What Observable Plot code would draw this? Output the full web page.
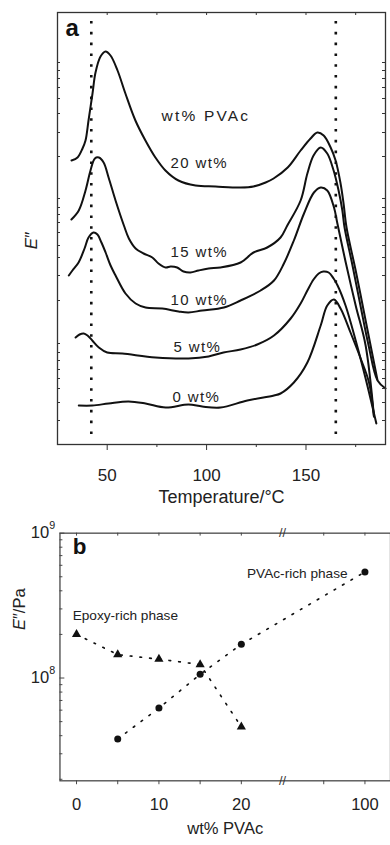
<!DOCTYPE html>
<html><head><meta charset="utf-8">
<script src="https://cdn.jsdelivr.net/npm/d3@7"></script>
<script src="https://cdn.jsdelivr.net/npm/@observablehq/plot@0.6"></script>
<style>
html,body{margin:0;padding:0;background:#fff;}
#wrap{position:relative;width:390px;height:845px;overflow:hidden;background:#fff;}
#pa{position:absolute;left:0;top:0;}
#pb{position:absolute;left:0;top:520px;}
</style></head><body><div id="wrap"><div id="pa"></div><div id="pb"></div></div>
<script>
// ---------- Panel a: E'' vs temperature (stacked, arbitrary units) ----------
const tempTicks = [50, 100, 150];
const tempMinorTicks = [75, 125, 175];
const transitionTemps = [42, 165];
const seriesNames = ["20 wt%", "15 wt%", "10 wt%", "5 wt%", "0 wt%"];

const curve20 = [[32.05,284],[35.07,287],[37.58,296],[39.09,304],[40.6,324],[42.61,351],[44.12,372],[46.64,388],[49.16,393],[51.67,389],[55.2,374],[59.16,351],[64.19,324],[69.23,304],[74.25,287],[79.29,274],[85.83,264],[94.45,259],[104.5,258],[117.1,257],[123.6,258],[129.7,262],[133.7,266],[140.8,277],[147.3,294],[152.3,306],[155.7,312],[158.9,309],[162.4,297],[164.9,284],[167.4,261],[168.9,241],[170.4,217],[175.0,174],[180.0,124],[183.5,89],[185.9,65]];
const curve15 = [[32.0,225],[35.7,234],[39.1,254],[41.6,274],[43.8,286],[45.8,287],[48.2,282],[50.7,267],[54.2,244],[58.4,219],[60.9,206],[64.3,196],[68.3,191],[72.7,187],[75.8,181],[79.4,177],[81.9,178],[85.2,177],[88.4,173],[91.9,172],[95.9,174],[101.0,176],[107.0,177],[117.1,182],[123.6,192],[130.5,197],[137.2,207],[140.6,219],[147.3,244],[150.7,271],[153.8,289],[157.4,297],[160.7,291],[163.9,274],[166.4,254],[168.3,234],[169.4,217],[173.4,179],[177.4,139],[181.5,99],[186.0,64],[190.0,56]];
const curve10 = [[30.7,169],[32.5,174],[35.6,182],[38.6,196],[40.6,207],[43.1,212],[45.1,210],[47.1,202],[49.2,192],[51.7,179],[54.2,169],[59.2,151],[64.3,141],[69.3,137],[77.7,136],[85.9,133],[90.9,132],[97.8,134],[108.7,137],[117.1,144],[127.2,154],[133.9,164],[138.9,181],[143.9,204],[149.0,231],[154.0,252],[157.4,257],[160.7,254],[164.1,237],[165.8,221],[170.0,182],[175.0,139],[180.0,99],[184.2,28]];
const curve5 = [[34.1,107],[36.1,110],[38.2,111],[40.1,109],[42.5,104],[45.8,97],[50.0,92],[57.6,91],[74.3,87],[90.9,86],[101.0,88],[108.5,92],[117.1,95],[125.5,100],[133.9,109],[142.3,126],[147.3,141],[150.7,154],[153.8,165],[156.4,171],[158.7,173],[161.4,172],[163.9,166],[165.9,159],[169.9,139],[175.0,104],[180.0,66],[185.4,21]];
const curve0 = [[35.7,39],[42.5,39],[50.7,41],[60.7,43],[69.3,41],[79.4,37],[90.9,40],[97.8,38],[107.0,37],[120.5,44],[133.9,49],[137.2,51],[143.9,62],[150.7,82],[157.4,119],[160.7,139],[164.1,145],[167.4,136],[172.4,112],[177.5,86],[181.7,62],[184.2,28]];
const eTicksA = [382,374,366,357,346,331,312,288,246,237,230,222,212,199,187,169,144,101,92,84,75,66,56,42,24];

// ---------- Panel b: E'' peak vs wt% PVAc ----------
const wtEpoxy = [0, 5, 10, 15, 20];
const eEpoxy = [2.0e8, 1.45e8, 1.35e8, 1.24e8, 4.6e7];
const wtPVAc = [5, 10, 15, 20, 100];
const ePVAc = [3.8e7, 6.2e7, 1.06e8, 1.71e8, 5.4e8];
const wtTicks = [0, 5, 10, 15, 20, 90, 100];
const wtTickLabels = {0: "0", 10: "10", 20: "20", 100: "100"};
const eMajorTicks = [1e8, 1e9];
const eMinorTicks = [2e7,3e7,4e7,5e7,6e7,7e7,8e7,9e7,2e8,3e8,4e8,5e8,6e8,7e8,8e8,9e8];

// ---------- build ----------
const FONT = "'Liberation Sans', Arial, Helvetica, sans-serif";
const curves = [curve20, curve15, curve10, curve5, curve0];
const rowsA = curves.flatMap((c, i) => c.map(([T, E]) => ({series: seriesNames[i], T, E})));

const FW_A = 328, FH_A = 432;
function lab(text, dx, dy, o = {}) {
  return Plot.text([text], {frameAnchor: "top-left", textAnchor: "start", lineAnchor: "middle", dx, dy, fill: "#222", ...o});
}
const plotA = Plot.plot({
  width: 390, height: 510,
  marginLeft: 57, marginRight: 5, marginTop: 12, marginBottom: 66,
  style: {fontFamily: FONT, fontSize: "17px", color: "#222", background: "white", overflow: "visible"},
  x: {domain: [25, 190]},
  y: {domain: [0, 432], axis: null},
  marks: [
    Plot.ruleX(transitionTemps, {x: d => d, stroke: "#111", strokeWidth: 2.6, strokeDasharray: "2.6,8.2", insetTop: 9, insetBottom: 2}),
    Plot.line(rowsA, {x: "T", y: "E", z: "series", curve: "catmull-rom", stroke: "#111", strokeWidth: 2}),
    Plot.frame({stroke: "#333", strokeWidth: 1.3}),
    Plot.axisX(tempTicks, {anchor: "bottom", tickSize: 6, tickPadding: 18, fontSize: 17, label: null, stroke: "#333"}),
    Plot.axisX(tempMinorTicks, {anchor: "bottom", tickSize: 3, tickFormat: () => "", label: null, stroke: "#333"}),
    Plot.tickX([...tempTicks, ...tempMinorTicks], {x: d => d, insetBottom: FH_A - 3, stroke: "#333"}),
    Plot.tickY(eTicksA, {y: d => d, insetRight: FW_A - 3, stroke: "#333"}),
    Plot.tickY(eTicksA, {y: d => d, insetLeft: FW_A - 3, stroke: "#333"}),
    Plot.text(["Temperature/°C"], {frameAnchor: "bottom", lineAnchor: "middle", dy: 53, fontSize: 18, fill: "#222"}),
    Plot.text(["E″"], {frameAnchor: "left", lineAnchor: "middle", textAnchor: "middle", dx: -26, dy: 12, rotate: -90, fontSize: 17, fill: "#222"}),
    lab("a", 8, 16, {fontSize: 24, fontWeight: "bold", fill: "#111"}),
    lab("wt% PVAc", 104, 104, {fontSize: 15.5}),
    lab(seriesNames[0], 113, 151, {fontSize: 15}),
    lab(seriesNames[1], 113, 240, {fontSize: 15}),
    lab(seriesNames[2], 113, 288, {fontSize: 15}),
    lab(seriesNames[3], 116, 335, {fontSize: 15}),
    lab(seriesNames[4], 115, 385, {fontSize: 15})
  ]
});
d3.select(plotA).selectAll("text").each(function () {
  const t = this.textContent;
  if (t === "wt% PVAc") this.setAttribute("letter-spacing", "2.2");
  else if (/wt%/.test(t)) this.setAttribute("letter-spacing", "1.4");
  if (t === "E″") this.innerHTML = '<tspan font-style="italic">E</tspan>″';
});
document.getElementById("pa").appendChild(plotA);

// panel b
const toAxis = w => (w <= 20 ? w : 35 - (100 - w) * 0.5);
const fromAxis = d => (d <= 20 ? d : 100 - (35 - d) * 2);
const epoxyRows = wtEpoxy.map((w, i) => ({x: toAxis(w), E: eEpoxy[i]}));
const pvacRows = wtPVAc.map((w, i) => ({x: toAxis(w), E: ePVAc[i]}));
const FW_B = 339, FH_B = 254;
const plotB = Plot.plot({
  width: 400, height: 325,
  marginLeft: 61, marginRight: 0, marginTop: 13, marginBottom: 58,
  style: {fontFamily: FONT, fontSize: "17px", color: "#222", background: "white", overflow: "visible"},
  x: {domain: [-2.01, 38.1]},
  y: {type: "log", domain: [1.952e7, 1e9], axis: null},
  marks: [
    Plot.frame({stroke: "#444", strokeWidth: 1.3}),
    Plot.line(epoxyRows, {x: "x", y: "E", stroke: "#111", strokeWidth: 1.7, strokeDasharray: "1.7,8.3"}),
    Plot.line(pvacRows, {x: "x", y: "E", stroke: "#111", strokeWidth: 1.7, strokeDasharray: "1.7,8.3"}),
    Plot.dot(epoxyRows, {x: "x", y: "E", symbol: "triangle", r: 3.5, fill: "#111", stroke: "none"}),
    Plot.dot(pvacRows, {x: "x", y: "E", symbol: "circle", r: 3.6, fill: "#111", stroke: "none"}),
    Plot.axisX(wtTicks.map(toAxis), {anchor: "bottom", tickSize: 4, tickPadding: 14, fontSize: 17, label: null,
      tickFormat: d => wtTickLabels[Math.round(fromAxis(d))] ?? "", stroke: "#444"}),
    Plot.tickX(wtTicks.map(toAxis), {x: d => d, insetBottom: FH_B - 3, stroke: "#444"}),
    Plot.tickY(eMinorTicks, {y: d => d, insetRight: FW_B - 3, stroke: "#444"}),
    Plot.tickY(eMajorTicks, {y: d => d, insetRight: FW_B - 5, stroke: "#444"}),
    Plot.text(eMajorTicks, {y: d => d, frameAnchor: "left", lineAnchor: "middle", textAnchor: "end", dx: -11, text: () => "10", fontSize: 17, fill: "#222"}),
    Plot.text(eMajorTicks, {y: d => d, frameAnchor: "left", lineAnchor: "middle", textAnchor: "start", dx: -11, dy: -8, text: d => String(Math.round(Math.log10(d))), fontSize: 11, fill: "#222"}),
    Plot.text(["//"], {x: () => 25, frameAnchor: "top", lineAnchor: "middle", fontSize: 13, fill: "#333"}),
    Plot.text(["//"], {x: () => 25, frameAnchor: "bottom", lineAnchor: "middle", fontSize: 13, fill: "#333"}),
    Plot.text(["wt% PVAc"], {frameAnchor: "bottom", lineAnchor: "middle", dy: 49, fontSize: 17, fill: "#222"}),
    Plot.text(["E″/Pa"], {frameAnchor: "left", lineAnchor: "middle", textAnchor: "middle", dx: -41, dy: -49, rotate: -90, fontSize: 17, fill: "#222"}),
    Plot.text(["b"], {frameAnchor: "top-left", lineAnchor: "middle", textAnchor: "start", dx: 13, dy: 14, fontSize: 23, fontWeight: "bold", fill: "#111"}),
    Plot.text(["Epoxy-rich phase"], {frameAnchor: "top-left", lineAnchor: "middle", textAnchor: "start", dx: 13, dy: 85, fontSize: 14, fill: "#222"}),
    Plot.text(["PVAc-rich phase"], {frameAnchor: "top-left", lineAnchor: "middle", textAnchor: "end", dx: 295, dy: 41, fontSize: 14, fill: "#222"})
  ]
});
d3.select(plotB).selectAll("text").each(function () {
  if (this.textContent === "E″/Pa") this.innerHTML = '<tspan font-style="italic">E</tspan>″/Pa';
});
document.getElementById("pb").appendChild(plotB);
</script></body></html>
